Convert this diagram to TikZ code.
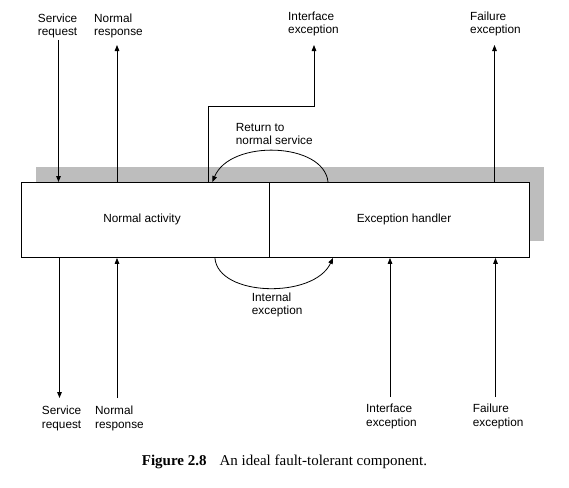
\documentclass[tikz,border=0pt]{standalone}
\usepackage{fontspec}
\setmainfont{Liberation Serif}
\newfontfamily\labfont{Liberation Sans}
\usetikzlibrary{arrows.meta}
\begin{document}
\begin{tikzpicture}[x=1pt,y=-1pt,
  lbl/.style={font=\labfont\fontsize{11.8}{13.5}\selectfont, align=left, inner sep=0pt, anchor=west},
  conn/.style={line width=0.8pt, -{Triangle[length=6pt,width=4.6pt]}},
  half/.style={draw, line width=0.9pt, fill=white, minimum height=75pt, inner sep=0pt,
    font=\labfont\fontsize{11.8}{13.5}\selectfont}]
\useasboundingbox (0,0) rectangle (569,487);
% shadow
\fill[black!26] (36,167) rectangle (544,241);
% component halves
\node[half, minimum width=248pt, anchor=north west] (na) at (20.5,182) {};
\node[half, minimum width=260.5pt, anchor=north west] (eh) at (268.5,182) {};
\node[lbl, anchor=center] (natxt) at (142,219) {Normal activity};
\node[lbl, anchor=center] (ehtxt) at (404,219) {Exception handler};
% top connectors
\coordinate (srT) at (58.5,40);
\draw[conn] (srT) -- (srT |- na.north);
\coordinate (nrT) at (117,45);
\draw[conn] (nrT |- na.north) -- (nrT);
\coordinate (ieT) at (314,45);
\coordinate (ieK) at (208.5,106);
\draw[conn] (ieK |- na.north) -- (ieK) -| (ieT);
\coordinate (feT) at (494.5,45);
\draw[conn] (feT |- eh.north) -- (feT);
% arcs
\draw[conn] ([xshift=59.5pt]eh.north west) .. controls (324,142) and (230,139) .. ([xshift=-57pt]na.north east);
\draw[conn] ([xshift=-54.5pt]na.south east) .. controls (218,297) and (314,299) .. ([xshift=64.5pt]eh.south west);
% bottom connectors
\coordinate (srB) at (59.5,398);
\draw[conn] (srB |- na.south) -- (srB);
\coordinate (nrB) at (117,398);
\draw[conn] (nrB) -- (nrB |- na.south);
\coordinate (ieB) at (390,397);
\draw[conn] (ieB) -- (ieB |- eh.south);
\coordinate (feB) at (495.5,397);
\draw[conn] (feB) -- (feB |- eh.south);
% labels
\node[lbl] (l1) at (37.7,26) {Service\\request};
\node[lbl] (l2) at (94,26) {Normal\\response};
\node[lbl] (l3) at (288,24) {Interface\\exception};
\node[lbl] (l4) at (470,24) {Failure\\exception};
\node[lbl] (l5) at (235.7,134) {Return to\\normal service};
\node[lbl] (l6) at (251.7,305) {Internal\\exception};
\node[lbl] (l7) at (41.7,418.5) {Service\\request};
\node[lbl] (l8) at (95,418.5) {Normal\\response};
\node[lbl] (l9) at (366,416.5) {Interface\\exception};
\node[lbl] (l10) at (472.7,416.5) {Failure\\exception};
% caption
\node[anchor=west, inner sep=0pt, font=\fontsize{15}{18}\selectfont] (cap) at (141.7,462)
  {\textbf{Figure 2.8}\hspace{13pt}An ideal fault-tolerant component.};
\end{tikzpicture}
\end{document}
